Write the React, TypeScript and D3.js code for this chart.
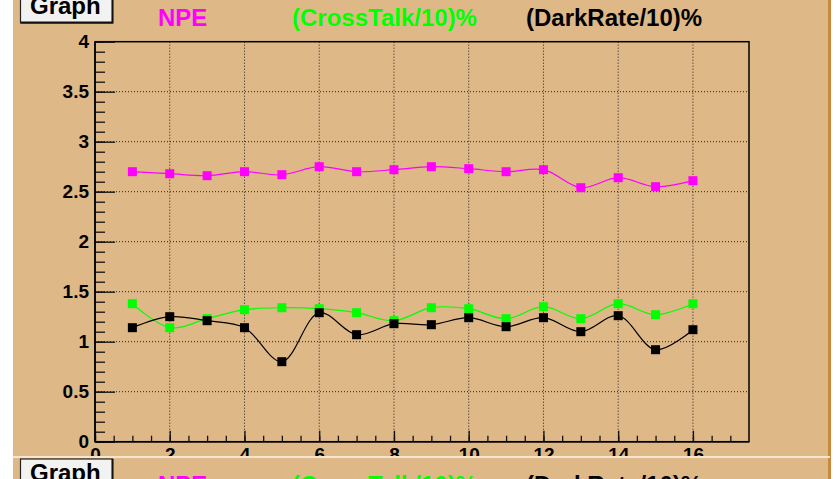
import React, { useEffect, useRef } from 'react';
import * as d3 from 'd3';

// channel index on the x axis
const channels = [1, 2, 3, 4, 5, 6, 7, 8, 9, 10, 11, 12, 13, 14, 15, 16];
const npe = [2.70, 2.68, 2.66, 2.70, 2.67, 2.75, 2.70, 2.72, 2.75, 2.73, 2.70, 2.72, 2.54, 2.64, 2.55, 2.61];
const crossTalk = [1.38, 1.14, 1.23, 1.32, 1.34, 1.33, 1.29, 1.21, 1.34, 1.33, 1.23, 1.35, 1.23, 1.38, 1.27, 1.38];
const darkRate = [1.14, 1.25, 1.21, 1.14, 0.80, 1.29, 1.07, 1.18, 1.17, 1.24, 1.15, 1.24, 1.10, 1.26, 0.92, 1.12];

const legend = [
    { label: 'NPE', color: '#ff00ff', x: 158 },
    { label: '(CrossTalk/10)%', color: '#00ff00', x: 292 },
    { label: '(DarkRate/10)%', color: '#000000', x: 526 },
];

const FONT = '"Liberation Sans", Arial, Helvetica, sans-serif';

function App() {
    const svgRef = useRef<SVGSVGElement>(null);

    useEffect(() => {
        const W = 840, H = 479;
        const svg = d3.select(svgRef.current);
        svg.selectAll('*').remove();

        svg.append('rect').attr('width', W).attr('height', H).attr('fill', '#ffffff');

        // draws one ROOT pad (background, Graph button, legend titles)
        const drawPad = (y0: number) => {
            const g = svg.append('g').attr('transform', `translate(0, ${y0})`);
            g.append('rect').attr('x', 13).attr('y', 0).attr('width', 815).attr('height', 480).attr('fill', '#deb887');
            g.append('rect').attr('x', 828).attr('y', 0).attr('width', 3).attr('height', 480).attr('fill', '#c98a3a');
            g.append('rect').attr('x', 13).attr('y', 0).attr('width', 817).attr('height', 2).attr('fill', '#f6e6cf');

            g.append('rect').attr('x', 20.5).attr('y', 3).attr('width', 92).attr('height', 31)
                .attr('fill', '#f2f2f2').attr('stroke', '#222').attr('stroke-width', 1.2);
            g.append('path').attr('d', 'M21,33.5 H112.5 V3').attr('fill', 'none').attr('stroke', '#111').attr('stroke-width', 2);
            g.append('text').attr('x', 30).attr('y', 24.5).attr('font-family', FONT).attr('font-weight', 'bold')
                .attr('font-size', 24).attr('fill', '#000').text('Graph');

            legend.forEach(l => {
                g.append('text').attr('x', l.x).attr('y', 37).attr('font-family', FONT).attr('font-weight', 'bold')
                    .attr('font-size', 24).attr('fill', l.color).text(l.label);
            });
            return g;
        };

        const top = drawPad(-11);

        const x = d3.scaleLinear().domain([0, 17.5]).range([95, 749]);
        const y = d3.scaleLinear().domain([0, 4]).range([441.7, 41.7]);

        const plot = svg.append('g');

        // dotted grid
        plot.append('g').selectAll('line').data(d3.range(2, 17, 2)).enter().append('line')
            .attr('x1', d => x(d)).attr('x2', d => x(d)).attr('y1', y(0)).attr('y2', y(4))
            .attr('stroke', '#222').attr('stroke-dasharray', '1,2');
        plot.append('g').selectAll('line').data([0.5, 1, 1.5, 2, 2.5, 3, 3.5]).enter().append('line')
            .attr('x1', x(0)).attr('x2', x(17.5)).attr('y1', d => y(d)).attr('y2', d => y(d))
            .attr('stroke', '#222').attr('stroke-dasharray', '1,2');

        // frame
        plot.append('rect').attr('x', x(0)).attr('y', y(4)).attr('width', x(17.5) - x(0)).attr('height', y(0) - y(4))
            .attr('fill', 'none').attr('stroke', '#000').attr('stroke-width', 1.5);

        const series = [
            { values: npe, color: '#ff00ff' },
            { values: crossTalk, color: '#00ff00' },
            { values: darkRate, color: '#000000' },
        ];

        const line = d3.line<number>()
            .x((d, i) => x(channels[i]))
            .y(d => y(d))
            .curve(d3.curveCatmullRom.alpha(0.5));

        series.forEach(s => {
            plot.append('path').attr('d', line(s.values)).attr('fill', 'none')
                .attr('stroke', s.color).attr('stroke-width', 1.2);
            plot.append('g').selectAll('rect').data(s.values).enter().append('rect')
                .attr('x', (d, i) => x(channels[i]) - 4.5).attr('y', d => y(d) - 4.5)
                .attr('width', 9).attr('height', 9).attr('fill', s.color);
        });

        // axes with inward ticks
        const yMajor = d3.axisLeft(y).tickValues(d3.range(0, 4.01, 0.5)).tickSize(-20).tickPadding(6)
            .tickFormat(d => d3.format('~g')(d as number));
        const yMinor = d3.axisLeft(y).tickValues(d3.range(0, 4.01, 0.1)).tickSize(-10).tickFormat(() => '');
        const xMajor = d3.axisBottom(x).tickValues(d3.range(0, 17, 2)).tickSize(-11).tickPadding(6)
            .tickFormat(d => d3.format('d')(d as number));
        const xMinor = d3.axisBottom(x).tickValues(d3.range(0, 17.5, 0.5)).tickSize(-6).tickFormat(() => '');

        const styleAxis = (g: d3.Selection<SVGGElement, unknown, null, undefined>) => {
            g.select('.domain').remove();
            g.selectAll('line').attr('stroke', '#111').attr('stroke-width', 1.3);
            g.selectAll('text').attr('font-family', FONT).attr('font-weight', 'bold').attr('font-size', 19).attr('fill', '#000');
        };

        plot.append('g').attr('transform', `translate(${x(0)}, 0)`).call(yMinor).call(styleAxis);
        plot.append('g').attr('transform', `translate(${x(0)}, 0)`).call(yMajor).call(styleAxis);
        plot.append('g').attr('transform', `translate(0, ${y(0)})`).call(xMinor).call(styleAxis);
        const xg = plot.append('g').attr('transform', `translate(0, ${y(0)})`).call(xMajor).call(styleAxis);
        xg.selectAll('text').attr('dy', '0.71em').attr('y', 6);

        plot.append('line').attr('x1', x(0)).attr('x2', x(0)).attr('y1', y(0)).attr('y2', y(4)).attr('stroke', '#000').attr('stroke-width', 1.5);
        plot.append('line').attr('x1', x(0)).attr('x2', x(17.5)).attr('y1', y(0)).attr('y2', y(0)).attr('stroke', '#000').attr('stroke-width', 1.5);

        void top;
        // the next pad starts below and hides the x labels
        drawPad(456);
    }, []);

    return (
        <svg ref={svgRef} width={840} height={479}
            style={{ position: 'absolute', left: 0, top: 0, display: 'block' }} />
    );
}

export default App;
